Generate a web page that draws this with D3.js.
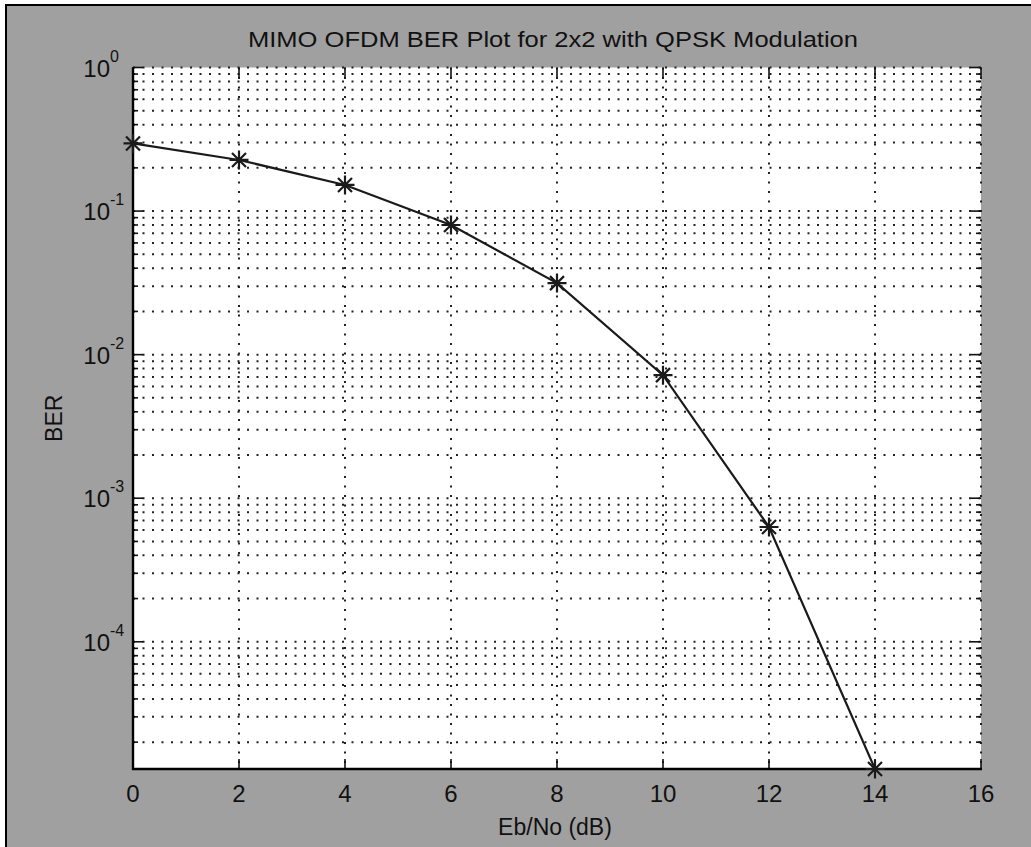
<!DOCTYPE html>
<html><head><meta charset="utf-8">
<script src="https://cdn.jsdelivr.net/npm/d3@7"></script>
<style>
body{margin:0;background:#fff;}
text{font-family:"Liberation Sans",Arial,Helvetica,sans-serif;fill:#111;}
</style>
</head><body><svg id="c" width="1031" height="847"></svg>
<script>
// ---- data ----
const ebno = [0, 2, 4, 6, 8, 10, 12, 14];
const ber = [0.296, 0.227, 0.152, 0.080, 0.0315, 0.0072, 6.3e-4, 1.3e-5];
const xTicks = [0, 2, 4, 6, 8, 10, 12, 14, 16];
const yExponents = [0, -1, -2, -3, -4];
const titleText = "MIMO OFDM BER Plot for 2x2 with QPSK Modulation";
const xLabelText = "Eb/No (dB)";
const yLabelText = "BER";

// ---- layout ----
const W = 1031, H = 847;
const L = 133, R = 981, T = 67.5, B = 769;
const svg = d3.select("#c");

// background: white margin, black border, gray figure
svg.append("rect").attr("width", W).attr("height", H).attr("fill", "#fff");
svg.append("rect").attr("x", 6).attr("y", 5).attr("width", W + 20).attr("height", H + 20)
  .attr("fill", "#a0a0a0").attr("stroke", "#000").attr("stroke-width", 2);
svg.append("rect").attr("x", L).attr("y", T).attr("width", R - L).attr("height", B - T).attr("fill", "#fff");

const x = d3.scaleLinear().domain([0, 16]).range([L, R]);
const y = d3.scaleLog().domain([d3.min(ber), 1]).range([B, T]);

// grid values
const yMajor = yExponents.map(e => Math.pow(10, e));
const yMinor = [];
for (let e = -5; e < 0; e++) for (let k = 2; k <= 9; k++) {
  const v = k * Math.pow(10, e);
  if (v >= y.domain()[0] && v <= 1) yMinor.push(v);
}
const gridColor = "#222";
const g = svg.append("g");
// horizontal grid
g.selectAll("line.h").data(yMinor.concat(yMajor)).join("line")
  .attr("x1", L).attr("x2", R).attr("y1", d => y(d)).attr("y2", d => y(d))
  .attr("stroke", gridColor).attr("stroke-width", 2).attr("stroke-dasharray", "2,7.5");
// vertical grid
g.selectAll("line.v").data(xTicks).join("line")
  .attr("x1", d => x(d)).attr("x2", d => x(d)).attr("y1", T).attr("y2", B)
  .attr("stroke", gridColor).attr("stroke-width", 2).attr("stroke-dasharray", "2,7.5");

// ticks (inward) on left and right
const tk = svg.append("g").attr("stroke", "#111").attr("stroke-width", 1.6);
const allY = yMinor.map(v => ({v, len: 5})).concat(yMajor.map(v => ({v, len: 10})));
tk.selectAll("line.yl").data(allY).join("line")
  .attr("x1", L).attr("x2", d => L + d.len).attr("y1", d => y(d.v)).attr("y2", d => y(d.v));
tk.selectAll("line.yr").data(allY).join("line").attr("class", "yr")
  .attr("x1", R).attr("x2", d => R - d.len).attr("y1", d => y(d.v)).attr("y2", d => y(d.v));
tk.selectAll("line.xb").data(xTicks).join("line").attr("class", "xb")
  .attr("x1", d => x(d)).attr("x2", d => x(d)).attr("y1", B).attr("y2", B - 10);
tk.selectAll("line.xt").data(xTicks).join("line").attr("class", "xt")
  .attr("x1", d => x(d)).attr("x2", d => x(d)).attr("y1", T).attr("y2", T + 10);

// axes lines (left, bottom)
svg.append("line").attr("x1", L).attr("x2", L).attr("y1", T).attr("y2", B + 1)
  .attr("stroke", "#000").attr("stroke-width", 2.4);
svg.append("line").attr("x1", L - 1).attr("x2", R + 1).attr("y1", B).attr("y2", B)
  .attr("stroke", "#000").attr("stroke-width", 2.4);

// x tick labels
svg.selectAll("text.xl").data(xTicks).join("text").attr("class", "xl")
  .attr("x", d => x(d)).attr("y", 802).attr("text-anchor", "middle")
  .attr("font-size", 24).text(d => d);

// y tick labels 10^e
const yl = svg.selectAll("g.ylab").data(yExponents).join("g").attr("class", "ylab");
yl.append("text").attr("x", L - 23).attr("y", d => y(Math.pow(10, d)) + 9)
  .attr("text-anchor", "end").attr("font-size", 24).text("10");
yl.append("text").attr("x", L - 23).attr("y", d => y(Math.pow(10, d)) - 6)
  .attr("font-size", 16).text(d => d);

// title and axis labels
svg.append("text").attr("x", (L + R) / 2 - 4).attr("y", 47).attr("text-anchor", "middle")
  .attr("font-size", 22).attr("textLength", 610).attr("lengthAdjust", "spacingAndGlyphs")
  .text(titleText);
svg.append("text").attr("x", (L + R) / 2 - 2).attr("y", 835).attr("text-anchor", "middle")
  .attr("font-size", 23).text(xLabelText);
svg.append("text").attr("transform", `translate(62,${(T + B) / 2}) rotate(-90)`)
  .attr("text-anchor", "middle").attr("font-size", 23).text(yLabelText);

// data line
const pts = ebno.map((e, i) => [e, ber[i]]);
svg.append("path").datum(pts)
  .attr("d", d3.line().x(d => x(d[0])).y(d => y(d[1])))
  .attr("fill", "none").attr("stroke", "#1a1a1a").attr("stroke-width", 2.2);

// asterisk markers
const r = 9.5, q = 7;
const star = `M${-r},0L${r},0M0,${-r}L0,${r}M${-q},${-q}L${q},${q}M${-q},${q}L${q},${-q}`;
svg.selectAll("path.mk").data(pts).join("path").attr("class", "mk")
  .attr("transform", d => `translate(${x(d[0])},${y(d[1])})`)
  .attr("d", star).attr("fill", "none").attr("stroke", "#1a1a1a").attr("stroke-width", 2.2);
</script>
</body></html>
